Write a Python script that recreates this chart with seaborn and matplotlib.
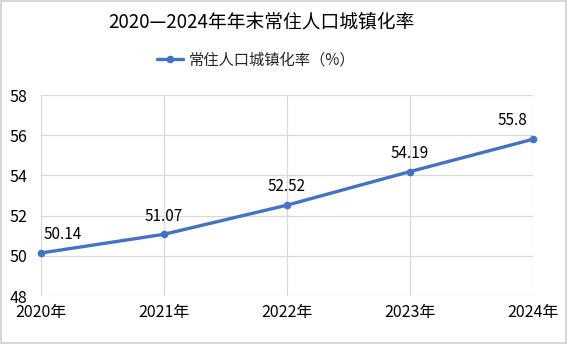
import matplotlib
matplotlib.use("Agg")
import matplotlib.pyplot as plt
import seaborn as sns
import pandas as pd
from matplotlib.patches import Rectangle
from matplotlib.lines import Line2D

years = ["2020年", "2021年", "2022年", "2023年", "2024年"]
rates = [50.14, 51.07, 52.52, 54.19, 55.8]
rate_labels = ["50.14", "51.07", "52.52", "54.19", "55.8"]
y_ticks = [48, 50, 52, 54, 56, 58]
title = "2020—2024年年末常住人口城镇化率"
series_name = "常住人口城镇化率（%）"

sns.set_theme(style="white")
plt.rcParams['font.family'] = ['Noto Sans CJK SC', 'DejaVu Sans']

df = pd.DataFrame({"idx": range(len(years)), "year": years, "rate": rates})

fig = plt.figure(figsize=(5.68, 3.44), dpi=100)
ax = fig.add_axes([41/568, 1-296/344, (533-41)/568, (296-95)/344])

color = "#4472C4"
sns.lineplot(data=df, x="idx", y="rate", ax=ax, color=color, linewidth=2.4,
             marker="o", markersize=5.5, markeredgewidth=0, legend=False, clip_on=False)

ax.set_xlim(0, len(years)-1)
ax.set_ylim(48, 58)
ax.set_xticks(range(len(years)))
ax.set_xticklabels(years)
ax.set_yticks(y_ticks)
ax.set_yticklabels([str(t) for t in y_ticks])
ax.tick_params(axis='both', length=0, labelsize=11.5, colors="#000000")
ax.tick_params(axis='y', pad=10)
ax.tick_params(axis='x', pad=6)
ax.grid(True, color="#D9D9D9", linewidth=0.9)
ax.set_axisbelow(True)
for s in ax.spines.values():
    s.set_visible(False)
ax.set_xlabel("")
ax.set_ylabel("")

for i, (v, lab) in enumerate(zip(rates, rate_labels)):
    ha = "center"
    dx = 0
    if i == 0:
        ha = "left"; dx = 2
    elif i == len(rates) - 1:
        ha = "right"; dx = -4
    ax.annotate(lab, (i, v), xytext=(dx, 7), textcoords="offset points",
                ha=ha, va="bottom", fontsize=11, color="#000000")

fig.text(261/568, 1-22/344, title, ha="center", va="center", fontsize=13.5, color="#000000")

handle = Line2D([0], [0], color=color, linewidth=2.4, marker="o", markersize=5.5, markeredgewidth=0)
fig.legend([handle], [series_name], loc="center", bbox_to_anchor=(256/568, 1-60/344),
           frameon=False, fontsize=11, handlelength=1.7, handletextpad=0.35)

fig.patches.append(Rectangle((0.002, 0.003), 0.995, 0.994, transform=fig.transFigure,
                             fill=False, edgecolor="#D0D0D0", linewidth=1.2))

fig.savefig("out.png", dpi=100, facecolor="white")
